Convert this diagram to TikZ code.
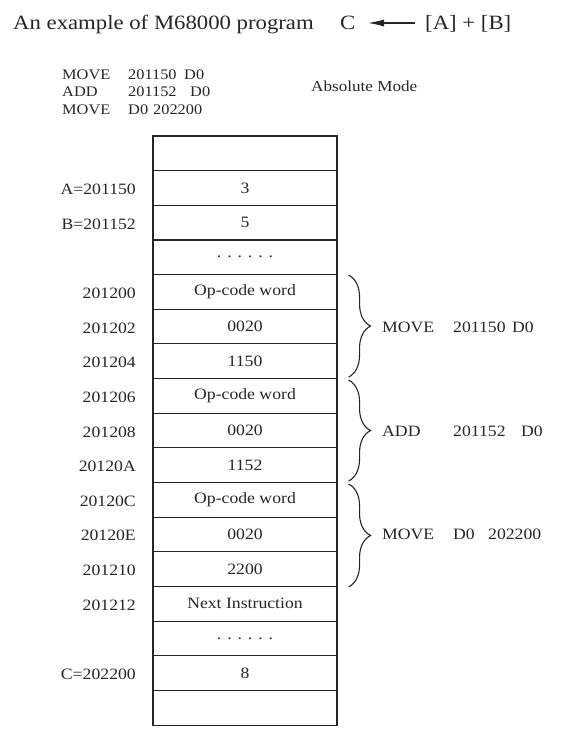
\documentclass[tikz,border=0pt]{standalone}
\usepackage{fontspec}
\setmainfont{Liberation Serif}[FakeStretch=1.12]
\usetikzlibrary{decorations.pathreplacing,arrows.meta}
\definecolor{ink}{HTML}{262626}
\begin{document}
\begin{tikzpicture}[x=1pt,y=-1pt,
  cell/.style={draw=ink, line width=1.1pt, minimum width=184pt, minimum height=34.65pt, inner sep=0pt, text=ink, font=\fontsize{15.8}{18}\selectfont},
  addr/.style={anchor=base east, inner sep=0pt, text=ink, font=\fontsize{15.8}{18}\selectfont},
  txt/.style={anchor=base west, inner sep=0pt, text=ink, font=\fontsize{15.8}{18}\selectfont},
  code/.style={anchor=base west, inner sep=0pt, text=ink, font=\fontsize{14.6}{17}\selectfont},
  ttl/.style={anchor=base west, inner sep=0pt, text=ink, font=\fontsize{20.3}{24}\selectfont},
  bracedeco/.style={draw=ink, line width=1.1pt, decorate, decoration={brace, amplitude=22pt}}]
\useasboundingbox (0,0) rectangle (562,745);
% title
\node[ttl] (title) at (13,29) {An example of M68000 program};
\node[ttl] (cc) at (340,29) {C};
\node[ttl] (ab) at (425,29) {[A] + [B]};
\coordinate (arrs) at (415,23);
\coordinate (arre) at (368,23);
\draw[ink, line width=1.2pt, -{Latex[length=16pt,width=7pt]}] (arrs) -- (arre);
% code
\node[code] (c1a) at (62,79) {MOVE};
\node[code] (c1b) at (128,79) {201150};
\node[code] (c1c) at (184,79) {D0};
\node[code] (c2a) at (62,96.5) {ADD};
\node[code] (c2b) at (128,96.5) {201152};
\node[code] (c2c) at (190,96.5) {D0};
\node[code] (c3a) at (62,114) {MOVE};
\node[code] (c3b) at (128,114) {D0};
\node[code] (c3c) at (153,114) {202200};
\node[code, font=\fontsize{15.3}{17}\selectfont] (absm) at (311,91) {Absolute Mode};
% memory cells
\foreach \t [count=\i from 0] in {{},3,5,{. . . . . .},Op-code word,0020,1150,Op-code word,0020,1152,Op-code word,0020,2200,Next Instruction,{. . . . . .},8,{}}
  \node[cell] (r\i) at (245, 136+34.65*\i+17.325) {\t};
% addresses
\foreach \i/\a in {1/A=201150,2/B=201152,4/201200,5/201202,6/201204,7/201206,8/201208,9/20120A,10/20120C,11/20120E,12/201210,13/201212,15/C=202200}
  \node[addr] (a\i) at (136, 136+34.65*\i+17.325+6.5) {\a};
% braces
\draw[bracedeco] ([xshift=11pt,yshift=-1pt]r4.north east) -- ([xshift=11pt,yshift=2pt]r6.south east);
\draw[bracedeco] ([xshift=11pt,yshift=-2pt]r7.north east) -- ([xshift=11pt,yshift=2pt]r9.south east);
\draw[bracedeco] ([xshift=11pt,yshift=-2pt]r10.north east) -- ([xshift=11pt,yshift=0pt]r12.south east);
% brace labels
\node[txt] (m1a) at (382, 136+34.65*5+17.325+5.5) {MOVE};
\node[txt] (m1b) at (453, 136+34.65*5+17.325+5.5) {201150};
\node[txt] (m1c) at (512, 136+34.65*5+17.325+5.5) {D0};
\node[txt] (m2a) at (382, 136+34.65*8+17.325+5.5) {ADD};
\node[txt] (m2b) at (453, 136+34.65*8+17.325+5.5) {201152};
\node[txt] (m2c) at (521, 136+34.65*8+17.325+5.5) {D0};
\node[txt] (m3a) at (382, 136+34.65*11+17.325+5.5) {MOVE};
\node[txt] (m3b) at (453, 136+34.65*11+17.325+5.5) {D0};
\node[txt] (m3c) at (488, 136+34.65*11+17.325+5.5) {202200};
\end{tikzpicture}
\end{document}
